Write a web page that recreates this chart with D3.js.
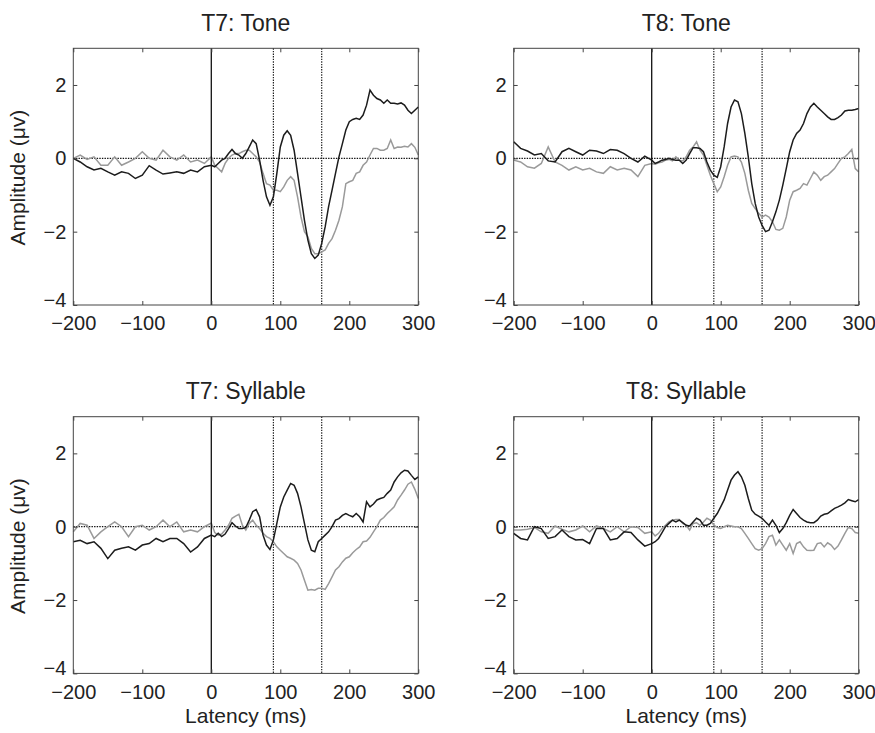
<!DOCTYPE html>
<html>
<head>
<meta charset="utf-8">
<script src="https://cdn.jsdelivr.net/npm/d3@7"></script>
<style>
  body { margin: 0; background: #fff; }
  svg text { font-family: "Liberation Sans", Arial, sans-serif; fill: #222; }
</style>
</head>
<body>
<div id="chart"></div>
<script>
// latency in ms: 10 ms steps before stimulus, 5 ms steps after
var latency = [-200,-190,-180,-170,-160,-150,-140,-130,-120,-110,-100,-90,-80,-70,-60,-50,-40,-30,-20,-10,0,
  5,10,15,20,25,30,35,40,45,50,55,60,65,70,75,80,85,90,95,100,
  105,110,115,120,125,130,135,140,145,150,155,160,165,170,175,180,185,190,195,200,
  205,210,215,220,225,230,235,240,245,250,255,260,265,270,275,280,285,290,295,300];

var xTicks = [-200, -100, 0, 100, 200, 300];
var yTicks = [-4, -2, 0, 2];
var markers = [90, 160];   // dotted latency windows

var titles = ["T7: Tone", "T8: Tone", "T7: Syllable", "T8: Syllable"];

// dark trace
var t7ToneDark = [0,-0.1,-0.23,-0.32,-0.27,-0.37,-0.46,-0.37,-0.41,-0.55,-0.46,-0.2,-0.32,-0.43,-0.4,-0.37,-0.41,-0.32,-0.37,-0.23,-0.19,
  -0.23,-0.14,-0.05,0,0.13,0.24,0.13,0.09,0,0.13,
  0.31,0.5,0.4,-0.05,-0.6,-1.05,-1.28,-1.05,-0.41,0.31,
  0.63,0.75,0.63,0.22,-0.41,-1.05,-1.69,-2.23,-2.6,-2.73,
  -2.64,-2.32,-1.87,-1.32,-0.87,-0.41,0.04,0.4,0.77,1.0,
  1.06,1.09,1.06,1.18,1.45,1.86,1.72,1.63,1.59,1.5,
  1.59,1.5,1.5,1.48,1.51,1.45,1.31,1.22,1.31,1.4];
// grey trace
var t7ToneLight = [0,0.09,-0.03,0.04,-0.19,-0.19,0.04,-0.19,-0.1,0,0.18,0,-0.05,0.22,0.04,-0.05,0.09,-0.1,-0.05,-0.14,0.04,
  -0.19,-0.28,-0.37,-0.14,0,0.09,0.13,0.13,0.18,0.22,
  0.22,0.13,0.04,-0.1,-0.41,-0.69,-0.73,-0.87,-0.87,-0.91,
  -0.78,-0.6,-0.5,-0.6,-1.05,-1.6,-2.0,-2.14,-2.46,-2.6,
  -2.6,-2.55,-2.5,-2.32,-2.19,-1.96,-1.69,-1.32,-0.69,-0.64,
  -0.6,-0.41,-0.37,-0.19,-0.1,0.09,0.27,0.27,0.22,0.22,
  0.27,0.5,0.27,0.31,0.3,0.33,0.31,0.4,0.3,0.09];

var t8ToneDark = [0.45,0.27,0.2,0.09,0.13,-0.07,-0.1,0.18,0.27,0.18,0.09,0.22,0.2,0.13,0.24,0.22,0.13,0,-0.1,0.06,-0.05,
  -0.14,-0.1,-0.05,-0.03,0,-0.03,-0.05,-0.05,-0.14,-0.05,
  0.13,0.29,0.29,0.27,0.18,-0.1,-0.32,-0.46,-0.52,-0.23,
  0.31,0.95,1.4,1.59,1.54,1.22,0.68,0.04,-0.69,-1.23,
  -1.6,-1.83,-2.0,-1.96,-1.73,-1.46,-1.14,-0.73,-0.28,0.18,
  0.5,0.68,0.77,0.95,1.22,1.4,1.5,1.4,1.31,1.22,
  1.13,1.06,1.06,1.11,1.18,1.29,1.31,1.31,1.33,1.36];
var t8ToneLight = [-0.05,-0.1,-0.23,-0.27,-0.14,0.31,-0.1,-0.19,-0.32,-0.23,-0.32,-0.27,-0.37,-0.41,-0.23,-0.32,-0.27,-0.32,-0.5,-0.19,-0.14,
  -0.16,-0.12,-0.1,-0.05,-0.03,-0.07,0.04,-0.05,-0.07,0.04,
  0.22,0.31,0.45,0.22,0.09,-0.19,-0.46,-0.69,-0.91,-0.78,
  -0.5,-0.19,0.04,0.06,0.04,-0.1,-0.41,-0.87,-1.23,-1.37,
  -1.5,-1.6,-1.55,-1.6,-1.73,-1.94,-1.96,-1.91,-1.6,-1.14,
  -0.91,-0.87,-0.82,-0.69,-0.73,-0.55,-0.37,-0.46,-0.6,-0.5,
  -0.46,-0.37,-0.28,-0.14,0,0.04,0.13,0.24,-0.28,-0.37];

var t7SyllableDark = [-0.41,-0.37,-0.46,-0.41,-0.59,-0.87,-0.64,-0.59,-0.55,-0.64,-0.5,-0.46,-0.32,-0.41,-0.32,-0.32,-0.46,-0.69,-0.55,-0.32,-0.23,
  -0.27,-0.18,-0.27,-0.2,-0.05,0.11,0.02,-0.05,-0.05,-0.02,
  0.18,0.41,0.47,0.27,-0.23,-0.5,-0.62,-0.36,0.09,0.54,
  0.81,1.0,1.18,1.13,0.91,0.54,0.09,-0.36,-0.64,-0.68,
  -0.41,-0.32,-0.23,-0.14,0,0.18,0.22,0.31,0.36,0.31,
  0.27,0.36,0.27,0.13,0.68,0.54,0.62,0.73,0.77,0.8,
  0.91,1.0,1.22,1.36,1.47,1.54,1.52,1.4,1.29,1.36];
var t7SyllableLight = [-0.14,0.09,0.04,-0.32,-0.14,0,0.13,0,-0.27,0,0.04,-0.09,0,0.18,0,0.13,-0.14,-0.09,-0.14,0,0.1,
  -0.16,-0.23,-0.2,-0.09,0.04,0.23,0.29,0.34,0.04,-0.09,
  0.09,0.18,0.04,-0.05,-0.18,-0.27,-0.32,-0.41,-0.55,-0.64,
  -0.73,-0.82,-0.86,-0.91,-1.0,-1.18,-1.46,-1.73,-1.71,-1.73,
  -1.68,-1.68,-1.71,-1.55,-1.37,-1.18,-1.09,-0.96,-0.86,-0.82,
  -0.71,-0.62,-0.55,-0.41,-0.39,-0.29,-0.14,0,0.18,0.25,
  0.36,0.45,0.54,0.73,0.86,1.0,1.16,1.22,1.02,0.77];

var t8SyllableDark = [-0.18,-0.32,-0.36,0,-0.05,-0.32,-0.27,-0.09,-0.27,-0.36,-0.35,-0.46,-0.05,-0.05,-0.36,-0.32,-0.14,-0.16,-0.36,-0.53,-0.46,
  -0.41,-0.32,-0.16,0,0.09,0.18,0.13,0.18,0.11,0.04,
  0.02,0.13,0.23,0.18,0.04,0.04,0.09,0.23,0.36,0.54,
  0.73,1.0,1.27,1.41,1.5,1.36,1.13,0.77,0.45,0.34,
  0.29,0.23,0.13,0.04,0.18,0.04,-0.16,-0.05,0.11,0.31,
  0.47,0.36,0.25,0.18,0.13,0.11,0.11,0.18,0.29,0.34,
  0.36,0.43,0.5,0.54,0.59,0.65,0.74,0.71,0.68,0.74];
var t8SyllableLight = [-0.09,-0.09,-0.07,-0.02,-0.14,-0.18,0.02,-0.07,-0.14,-0.09,0.02,-0.14,0.02,-0.05,-0.14,0,-0.14,0,-0.02,-0.18,-0.14,
  -0.25,-0.18,-0.05,0.04,0.13,0.18,0.2,0.2,0.09,0.04,
  -0.09,0.09,0.11,0.04,0.13,0.23,0.18,0.04,-0.02,-0.05,
  0,0.04,0.02,0,0,-0.05,-0.18,-0.32,-0.46,-0.6,
  -0.64,-0.6,-0.46,-0.27,-0.23,-0.5,-0.36,-0.5,-0.64,-0.46,
  -0.73,-0.46,-0.41,-0.55,-0.64,-0.65,-0.64,-0.46,-0.44,-0.55,
  -0.44,-0.5,-0.62,-0.53,-0.36,-0.18,-0.02,-0.05,-0.16,-0.18];

var w = 875, h = 733;
var pw = 345, ph = 256.7;

var panels = [
  { title: titles[0], dark: t7ToneDark, light: t7ToneLight, x: 73.3, y: 48.3, yLabel: true, xLabel: false },
  { title: titles[1], dark: t8ToneDark, light: t8ToneLight, x: 513.7, y: 48.3, yLabel: false, xLabel: false },
  { title: titles[2], dark: t7SyllableDark, light: t7SyllableLight, x: 73.3, y: 416.7, yLabel: true, xLabel: true },
  { title: titles[3], dark: t8SyllableDark, light: t8SyllableLight, x: 513.7, y: 416.7, yLabel: false, xLabel: true }
];

var svg = d3.select("#chart").append("svg")
  .attr("width", w)
  .attr("height", h);

var x = d3.scaleLinear().domain([-200, 300]).range([0, pw]);
var y = d3.scaleLinear().domain([-4, 3]).range([ph, 0]);

var fmt = d3.format("d");   // gives the proper minus sign

var line = d3.line()
  .x(function(d, i) { return x(latency[i]); })
  .y(function(d) { return y(d); });

panels.forEach(function(p) {
  var g = svg.append("g").attr("transform", "translate(" + p.x + "," + p.y + ")");

  // dotted guides
  g.append("line")
    .attr("x1", 0).attr("x2", pw)
    .attr("y1", y(0)).attr("y2", y(0))
    .attr("stroke", "#111").attr("stroke-width", 1.3)
    .attr("stroke-dasharray", "1.4,1.2");
  markers.forEach(function(m) {
    g.append("line")
      .attr("x1", x(m)).attr("x2", x(m))
      .attr("y1", 0).attr("y2", ph)
      .attr("stroke", "#222").attr("stroke-width", 1.2)
      .attr("stroke-dasharray", "1.4,1.2");
  });

  g.append("path")
    .datum(p.light)
    .attr("d", line)
    .attr("fill", "none")
    .attr("stroke", "#9a9a9a")
    .attr("stroke-width", 1.5);

  g.append("path")
    .datum(p.dark)
    .attr("d", line)
    .attr("fill", "none")
    .attr("stroke", "#1c1c1c")
    .attr("stroke-width", 1.5);

  // stimulus onset
  g.append("line")
    .attr("x1", x(0)).attr("x2", x(0))
    .attr("y1", 0).attr("y2", ph)
    .attr("stroke", "#111").attr("stroke-width", 1.3);

  // axes, ticks pointing inwards
  var bottom = g.append("g").attr("transform", "translate(0," + ph + ")")
    .call(d3.axisBottom(x).tickValues(xTicks).tickSize(-4).tickPadding(11).tickFormat(fmt));
  var top = g.append("g")
    .call(d3.axisTop(x).tickValues(xTicks).tickSize(-4).tickFormat(""));
  var left = g.append("g")
    .call(d3.axisLeft(y).tickValues(yTicks).tickSize(-4).tickPadding(7).tickFormat(fmt));
  var right = g.append("g").attr("transform", "translate(" + pw + ",0)")
    .call(d3.axisRight(y).tickValues(yTicks).tickSize(-4).tickFormat(""));

  [bottom, top, left, right].forEach(function(a) {
    a.select(".domain").remove();
    a.selectAll(".tick line").attr("stroke", "#444");
    a.selectAll(".tick text")
      .style("font-size", "20px")
      .attr("fill", "#222");
  });

  // lowest y label sits a little higher so it clears the x labels
  left.selectAll(".tick text")
    .filter(function(d) { return d === -4; })
    .attr("y", -5);

  g.append("rect")
    .attr("width", pw).attr("height", ph)
    .attr("fill", "none")
    .attr("stroke", "#444")
    .attr("stroke-width", 1);

  g.append("text")
    .attr("x", pw / 2)
    .attr("y", -17.5)
    .attr("text-anchor", "middle")
    .style("font-size", "23px")
    .text(p.title);

  if (p.yLabel) {
    g.append("text")
      .attr("transform", "translate(" + (25 - p.x) + "," + (ph / 2 + 1) + ") rotate(-90)")
      .attr("text-anchor", "middle")
      .style("font-size", "21px")
      .text("Amplitude (\u03bcv)");
  }
  if (p.xLabel) {
    g.append("text")
      .attr("x", pw / 2)
      .attr("y", ph + 50)
      .attr("text-anchor", "middle")
      .style("font-size", "21px")
      .text("Latency (ms)");
  }
});
</script>
</body>
</html>
